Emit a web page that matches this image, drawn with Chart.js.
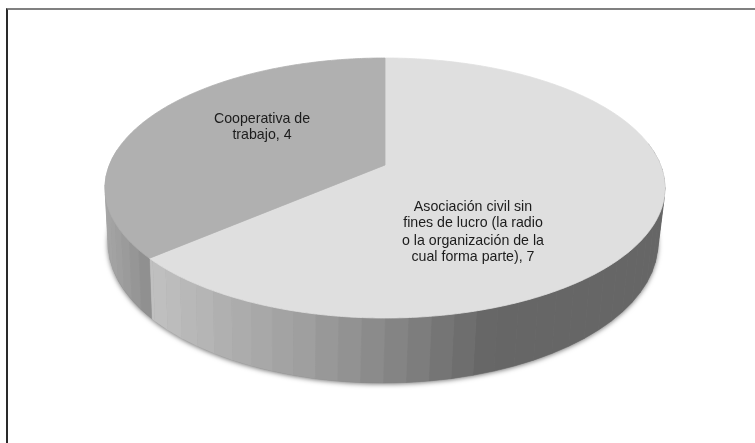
<!DOCTYPE html>
<html>
<head>
<meta charset="utf-8">
<style>
  body { margin: 0; background: #fff; }
  #wrap { position: relative; width: 755px; height: 443px; overflow: hidden; }
  #frame { position: absolute; left: 6px; top: 8px; right: -4px; bottom: -4px;
           border-top: 2px solid #808080; border-left: 2px solid #2a2a2a; }
  canvas { position: absolute; left: 0; top: 0; filter: blur(0.35px); }
</style>
<script src="https://cdn.jsdelivr.net/npm/chart.js@4"></script>
</head>
<body>
<div id="wrap">
  <canvas id="myChart" width="755" height="443"></canvas>
  <div id="frame"></div>
</div>
<script>
var categories = ["Asociación civil sin fines de lucro (la radio o la organización de la cual forma parte)", "Cooperativa de trabajo"];
var values = [7, 4];
var sliceColors = ["#dfdfdf", "#b0b0b0"];
var labelLines = [
  ["Asociación civil sin", "fines de lucro (la radio", "o la organización de la", "cual forma parte), 7"],
  ["Cooperativa de", "trabajo, 4"]
];

// perspective of the tilted disc, measured on the picture
var CX = 385, TOP = 58, HUB = 165, FRONT = 318, HALF_W = 280;
var w = (2 * HUB - TOP - FRONT) / (FRONT - TOP);
var p = FRONT * (1 + w) - HUB;
var a = HALF_W * Math.sqrt(1 - w * w);
var MID_Y = (TOP + FRONT) / 2;

// chart angle (0 = right, clockwise) + radius fraction -> picture
function project(angle, r) {
  var u = r * Math.cos(angle), v = r * Math.sin(angle);
  var d = 1 + w * v;
  return { x: CX + a * u / d, y: (p * v + HUB) / d };
}

// same rim point on the underside of the disc
function lower(pt) {
  return {
    x: 383 + (pt.x - CX) * 0.982,
    y: pt.y + 55 + 10 * (pt.y - MID_Y) / (FRONT - MID_Y)
  };
}

// wall shade along x, one list per slice
var wallStops = [
  [[155, 192], [250, 170], [300, 160], [385, 136], [440, 118], [490, 102], [700, 102]],
  [[100, 168], [125, 155], [150, 140], [700, 140]]
];

function shade(stops, x) {
  for (var i = 1; i < stops.length; i++) {
    if (x <= stops[i][0]) {
      var t = Math.max(0, (x - stops[i - 1][0]) / (stops[i][0] - stops[i - 1][0]));
      var g = Math.round(stops[i - 1][1] + t * (stops[i][1] - stops[i - 1][1]));
      return "rgb(" + g + "," + g + "," + g + ")";
    }
  }
  return "#666";
}

var labelCenters = [[473, 207, 223, 241, 257], [262, 119, 135]];

var discPlugin = {
  id: "disc",
  beforeDatasetsDraw: function (chart) {
    var ctx = chart.ctx;
    var arcs = chart.getDatasetMeta(0).data;
    var step = 4 * Math.PI / 180;

    // soft shadow under the wall
    ctx.save();
    ctx.shadowColor = "rgba(0,0,0,0.55)";
    ctx.shadowBlur = 5;
    ctx.shadowOffsetY = 1;
    ctx.fillStyle = "#888";
    ctx.beginPath();
    for (var s = 0; s <= 360; s += 2) {
      var q = lower(project(s * Math.PI / 180, 1));
      if (s === 0) ctx.moveTo(q.x, q.y); else ctx.lineTo(q.x, q.y);
    }
    ctx.closePath();
    ctx.fill();
    ctx.restore();

    // wall, in narrow flat bands like the original (front half only)
    arcs.forEach(function (arc, i) {
      for (var t = arc.startAngle; t < arc.endAngle; t += step) {
        var t2 = Math.min(t + step, arc.endAngle);
        if (Math.sin((t + t2) / 2) < -0.15) continue;
        var a1 = project(t, 1), a2 = project(t2, 1);
        var mid = project((t + t2) / 2, 1);
        var b1 = lower(a1), b2 = lower(a2);
        var col = shade(wallStops[i], mid.x);
        ctx.fillStyle = col;
        ctx.strokeStyle = col;
        ctx.lineWidth = 0.5;
        ctx.beginPath();
        ctx.moveTo(a1.x, a1.y);
        ctx.lineTo(a2.x, a2.y);
        ctx.lineTo(b2.x, b2.y);
        ctx.lineTo(b1.x, b1.y);
        ctx.closePath();
        ctx.fill();
        ctx.stroke();
      }
    });

    // top face
    arcs.forEach(function (arc, i) {
      ctx.fillStyle = sliceColors[i];
      ctx.strokeStyle = sliceColors[i];
      ctx.lineWidth = 0.8;
      ctx.beginPath();
      var hub = project(0, 0);
      ctx.moveTo(hub.x, hub.y);
      var n = Math.ceil((arc.endAngle - arc.startAngle) / 0.01);
      for (var k = 0; k <= n; k++) {
        var e = project(arc.startAngle + (arc.endAngle - arc.startAngle) * k / n, 1);
        ctx.lineTo(e.x, e.y);
      }
      ctx.closePath();
      ctx.fill();
      ctx.stroke();
    });

    // labels
    ctx.fillStyle = "#1c1c1c";
    ctx.font = "14.2px 'Liberation Sans', Arial, sans-serif";
    ctx.textAlign = "center";
    ctx.textBaseline = "middle";
    labelLines.forEach(function (lines, i) {
      lines.forEach(function (line, j) {
        ctx.fillText(line, labelCenters[i][0], labelCenters[i][j + 1]);
      });
    });
    return false; // the flat arcs are replaced by the projected ones
  }
};

new Chart(document.getElementById("myChart").getContext("2d"), {
  type: "pie",
  data: {
    labels: categories,
    datasets: [{ data: values, backgroundColor: sliceColors, borderWidth: 0 }]
  },
  options: {
    responsive: false,
    animation: false,
    plugins: { legend: { display: false }, tooltip: { enabled: false } }
  },
  plugins: [discPlugin]
});
</script>
</body>
</html>
